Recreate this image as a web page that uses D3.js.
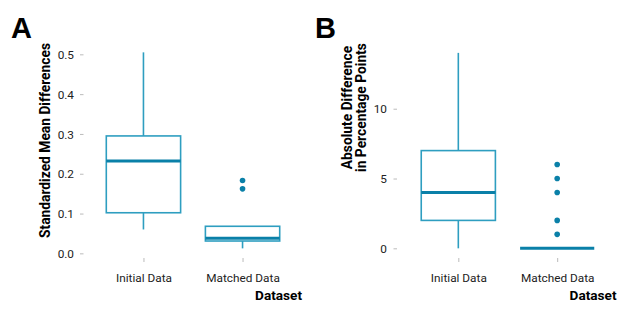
<!DOCTYPE html>
<html>
<head>
<meta charset="utf-8">
<script src="https://cdn.jsdelivr.net/npm/d3@7"></script>
<style>
  body { margin: 0; background: #fff; }
  text { font-family: Roboto, "Liberation Sans", sans-serif; }
</style>
</head>
<body>
<svg id="chart" width="629" height="315"></svg>
<script>
// data
const datasets = ['Initial Data', 'Matched Data']

// panel A: standardized mean differences
const smdStats = [
    { group: 'Initial Data', lo: 0.06, q1: 0.102, med: 0.232, q3: 0.295, hi: 0.505 },
    { group: 'Matched Data', lo: 0.0125, q1: 0.031, med: 0.038, q3: 0.068, hi: 0.068 },
]
const smdOutliers = [
    { group: 'Matched Data', v: 0.183 },
    { group: 'Matched Data', v: 0.162 },
]
const smdTicks = [0, 0.1, 0.2, 0.3, 0.4, 0.5]

// panel B: absolute difference in percentage points
const pctStats = [
    { group: 'Initial Data', lo: 0, q1: 2, med: 4, q3: 7, hi: 14 },
    { group: 'Matched Data', lo: 0, q1: 0, med: 0, q3: 0, hi: 0 },
]
const pctOutliers = [
    { group: 'Matched Data', v: 6 },
    { group: 'Matched Data', v: 5 },
    { group: 'Matched Data', v: 4 },
    { group: 'Matched Data', v: 2 },
    { group: 'Matched Data', v: 1 },
]
const pctTicks = [0, 5, 10]

const boxColor = '#2e9ec0'
const medColor = '#0a80a8'

const svg = d3.select('#chart')

function drawPanel(opts) {
    let g = svg.append('g')
    let x = d3.scalePoint().domain(datasets).range([opts.left, opts.right]).padding(0.6)
    let y = d3.scaleLinear().domain(opts.domain).range([opts.bottom, opts.top])
    let bw = x.step() * 0.75

    // y axis
    let yAxis = g.append('g')
        .attr('transform', 'translate(' + opts.left + ',0)')
        .call(d3.axisLeft(y).tickValues(opts.ticks).tickFormat(opts.fmt))
    yAxis.select('.domain').remove()
    yAxis.selectAll('.tick line').attr('stroke', '#bbb').attr('x1', opts.tickIn).attr('x2', opts.tickIn - 3.5)
    yAxis.selectAll('.tick text').attr('fill', '#222').style('font-size', '11.8px')
        .attr('x', opts.labelX).attr('dy', '0.35em')

    // x axis
    let xAxis = g.append('g')
        .attr('transform', 'translate(0,' + opts.axisY + ')')
        .call(d3.axisBottom(x).tickSize(4))
    xAxis.select('.domain').remove()
    xAxis.selectAll('.tick line').attr('stroke', '#bbb')
    xAxis.selectAll('.tick text').attr('fill', '#222').style('font-size', '11.8px')
        .attr('y', 24).attr('dy', null)

    // whiskers
    g.selectAll('.whisker')
        .data(opts.stats)
        .join('line')
        .attr('x1', d => x(d.group)).attr('x2', d => x(d.group))
        .attr('y1', d => y(d.lo)).attr('y2', d => y(d.hi))
        .attr('stroke', boxColor).attr('stroke-width', 1.6)

    // boxes
    g.selectAll('.box')
        .data(opts.stats)
        .join('rect')
        .attr('x', d => x(d.group) - bw / 2)
        .attr('width', bw)
        .attr('y', d => y(d.q3))
        .attr('height', d => y(d.q1) - y(d.q3))
        .attr('fill', '#fff')
        .attr('stroke', boxColor).attr('stroke-width', 1.6)

    // medians
    g.selectAll('.median')
        .data(opts.stats)
        .join('line')
        .attr('x1', d => x(d.group) - bw / 2).attr('x2', d => x(d.group) + bw / 2)
        .attr('y1', d => y(d.med)).attr('y2', d => y(d.med))
        .attr('stroke', medColor).attr('stroke-width', 3)

    // outliers
    g.selectAll('.outlier')
        .data(opts.outliers)
        .join('circle')
        .attr('cx', d => x(d.group))
        .attr('cy', d => y(d.v))
        .attr('r', 2.8)
        .attr('fill', medColor)

    // titles
    g.append('text')
        .text('Dataset')
        .attr('x', opts.right).attr('y', 300)
        .attr('text-anchor', 'end')
        .style('font-size', '13.6px').style('font-weight', 'bold')

    let yt = g.append('text')
        .attr('text-anchor', 'middle')
        .style('font-size', '13.8px').style('font-weight', 'bold')
        .attr('transform', 'translate(' + opts.titleX + ',' + opts.titleY + ') rotate(-90)')
    opts.yTitle.forEach((line, i) => {
        yt.append('tspan').attr('x', 0).attr('dy', i === 0 ? 0 : '1.05em').text(line)
    })

    g.append('text')
        .text(opts.tag)
        .attr('x', opts.tagX).attr('y', 38)
        .style('font-family', '"Liberation Sans", Arial, sans-serif')
        .style('font-size', '29px').style('font-weight', 'bold')
}

drawPanel({
    left: 84, right: 302, top: 42.4, bottom: 263.3, axisY: 258,
    domain: [-0.025, 0.53], ticks: smdTicks, fmt: d3.format('.1f'),
    tickIn: -0.5, labelX: -10,
    stats: smdStats, outliers: smdOutliers,
    yTitle: ['Standardized Mean Differences'], titleX: 50, titleY: 140.5,
    tag: 'A', tagX: 11,
})

drawPanel({
    left: 399, right: 616.5, top: 43.1, bottom: 258.1, axisY: 258,
    domain: [-0.7, 14.7], ticks: pctTicks, fmt: d3.format('d'),
    tickIn: -2, labelX: -12,
    stats: pctStats, outliers: pctOutliers,
    yTitle: ['Absolute Difference', 'in Percentage Points'], titleX: 351.5, titleY: 107.5,
    tag: 'B', tagX: 315,
})
</script>
</body>
</html>
